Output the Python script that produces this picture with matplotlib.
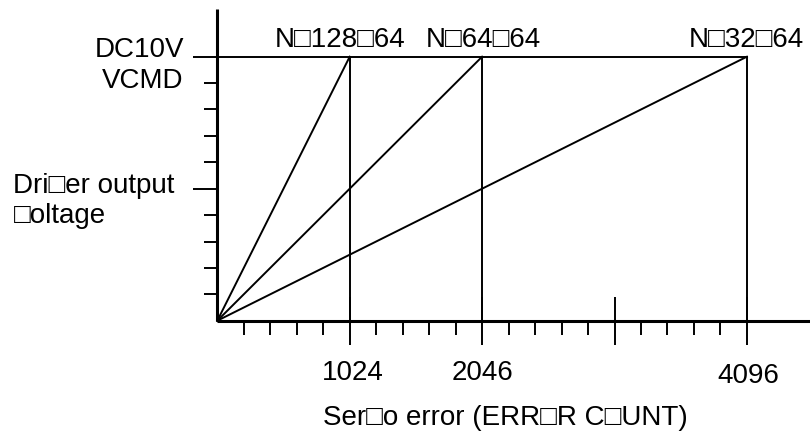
import matplotlib
matplotlib.use("Agg")
import matplotlib.pyplot as plt
from matplotlib.ticker import FixedLocator, NullFormatter
import matplotlib.transforms as mtransforms

plt.rcParams['font.family'] = ['Liberation Sans', 'DejaVu Sans']

# ---- data ----
line_labels = ["N□128□64", "N□64□64", "N□32□64"]
full_scale_counts = [1024, 2048, 4096]
vcmd_volts = 10
x_major_ticks = [1024, 2048, 3072, 4096]
x_major_labels = ["1024", "2046", "", "4096"]
x_minor_ticks = [204.8, 409.6, 614.4, 819.2,
                 1228.8, 1433.6, 1638.4, 1843.2,
                 2252.8, 2457.6, 2662.4, 2867.2,
                 3276.8, 3481.6, 3686.4, 3891.2]
y_major_ticks = [5, 10]
y_minor_ticks = [1, 2, 3, 4, 6, 7, 8, 9]
y_top_labels = ["DC10V", "VCMD"]
y_axis_label = ["Dri□er output", "□oltage"]
x_axis_label = "Ser□o error (ERR□R C□UNT)"

# ---- layout ----
W, H = 810, 432
FS = 20
fig = plt.figure(figsize=(W / 100, H / 100), dpi=100)
x0, y0 = 217.3, 320.7          # origin in pixels
ytop = 9
ax = fig.add_axes([x0 / W, (H - y0) / H, (W - x0) / W, (y0 - ytop) / H])
px_x = 132.4 / 1024            # pixels per count
px_y = 26.4                    # pixels per volt
ax.set_xlim(0, (W - x0) / px_x)
ax.set_ylim(0, (y0 - ytop) / px_y)

for s in ("top", "right"):
    ax.spines[s].set_visible(False)
for s in ("left", "bottom"):
    ax.spines[s].set_linewidth(2.2)
    ax.spines[s].set_capstyle("butt")

ax.xaxis.set_major_locator(FixedLocator(x_major_ticks))
ax.set_xticklabels(x_major_labels, fontsize=FS)
ax.xaxis.set_minor_locator(FixedLocator(x_minor_ticks))
ax.xaxis.set_minor_formatter(NullFormatter())
ax.yaxis.set_major_locator(FixedLocator(y_major_ticks))
ax.yaxis.set_minor_locator(FixedLocator(y_minor_ticks))
ax.yaxis.set_major_formatter(NullFormatter())
ax.yaxis.set_minor_formatter(NullFormatter())

ax.tick_params(axis='x', which='major', direction='inout', length=35, width=1.4, pad=11)
ax.tick_params(axis='x', which='minor', direction='out', length=10, width=1.4)
ax.tick_params(axis='y', which='major', direction='out', length=17, width=1.4)
ax.tick_params(axis='y', which='minor', direction='out', length=9.4, width=1.4)

# small offsets of individual tick labels
offsets = {"1024": (3.5, 0), "4096": (1.5, -3)}
for lab in ax.get_xticklabels():
    dx, dy = offsets.get(lab.get_text(), (0, 0))
    lab.set_transform(lab.get_transform() +
                      mtransforms.ScaledTranslation(dx / 100, dy / 100, fig.dpi_scale_trans))

# ---- lines ----
lw = 1.4
xmax = max(full_scale_counts)
ax.plot([0, xmax], [vcmd_volts, vcmd_volts], color="black", lw=lw, clip_on=False)
label_dx = [-9.5, 1.5, -1]
for cnt, lab, dx in zip(full_scale_counts, line_labels, label_dx):
    ax.plot([0, cnt], [0, vcmd_volts], color="black", lw=lw, clip_on=False)
    ax.plot([cnt, cnt], [0, vcmd_volts], color="black", lw=lw, clip_on=False)
    ax.annotate(lab, xy=(cnt, vcmd_volts), xytext=(dx, 9.5),
                textcoords="offset pixels", ha="center", va="baseline", fontsize=FS)

# ---- side texts ----
def fpos(x, y):
    return x / W, 1 - y / H

fig.text(*fpos(184, 56.7), y_top_labels[0], ha="right", va="baseline", fontsize=FS)
fig.text(*fpos(183, 88.3), y_top_labels[1], ha="right", va="baseline", fontsize=FS)
fig.text(*fpos(13, 193.3), y_axis_label[0], ha="left", va="baseline", fontsize=FS)
fig.text(*fpos(14, 223.3), y_axis_label[1], ha="left", va="baseline", fontsize=FS)
fig.text(*fpos(505, 425), x_axis_label, ha="center", va="baseline", fontsize=FS)

fig.savefig("out.png", dpi=100)
